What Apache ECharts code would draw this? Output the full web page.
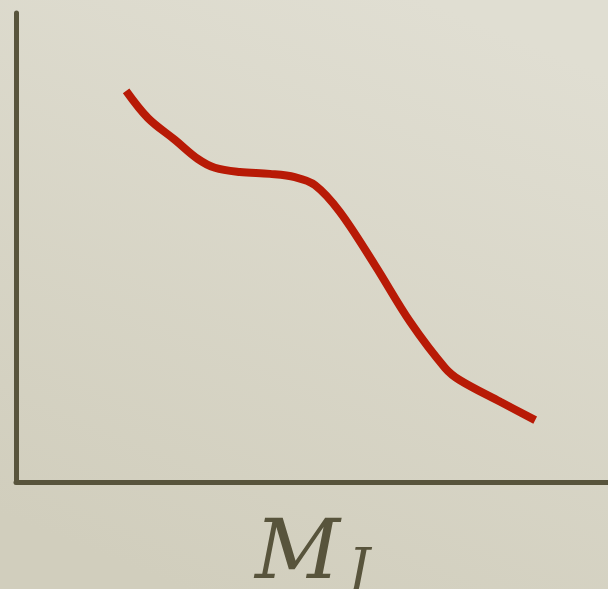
<!DOCTYPE html>
<html><head><meta charset="utf-8">
<script src="https://cdn.jsdelivr.net/npm/echarts@6/dist/echarts.min.js"></script>
<style>html,body{margin:0;padding:0;}#c{width:608px;height:589px;}</style>
</head><body><div id="c"></div>
<script>
const xValues = [18.6, 22.3, 26.9, 30.7, 33.6, 37.8, 42.9, 47.1, 50.5, 54.7, 60.6, 66.6, 72.5, 75.0, 81.8, 87.7];
const yValues = [83.4, 77.6, 72.9, 68.9, 67.0, 66.1, 65.7, 65.0, 63.3, 57.6, 46.3, 34.1, 24.3, 21.7, 17.1, 13.2];
const axisTitleMain = 'M';
const axisTitleSub = 'J';

const chart = echarts.init(document.getElementById('c'), null, {renderer: 'canvas'});
const axisColor = '#58543c';
chart.setOption({
  animation: false,
  backgroundColor: new echarts.graphic.LinearGradient(0.7, 0, 0.3, 1, [
    {offset: 0, color: '#e0ded2'},
    {offset: 1, color: '#d1cebd'}
  ]),
  grid: {left: 16, right: 0, top: 13, bottom: 107},
  xAxis: {type: 'value', min: 0, max: 100, axisLine: {show: true, lineStyle: {color: axisColor, width: 5}},
    axisTick: {show: false}, axisLabel: {show: false}, splitLine: {show: false}},
  yAxis: {type: 'value', min: 0, max: 100, axisLine: {show: true, lineStyle: {color: axisColor, width: 5}},
    axisTick: {show: false}, axisLabel: {show: false}, splitLine: {show: false}},
  series: [{
    type: 'line', smooth: 0.35, showSymbol: false,
    data: xValues.map((x, i) => [x, yValues[i]]),
    lineStyle: {color: '#b81a06', width: 8, cap: 'butt'}
  }],
  graphic: [
    {type: 'text', left: 255, top: 515, style: {text: axisTitleMain, font: 'italic 83px "DejaVu Serif"', fill: axisColor,
      shadowColor: 'rgba(255,255,255,0.9)', shadowBlur: 8}},
    {type: 'text', left: 348, top: 546, style: {text: axisTitleSub, font: 'italic 54px "DejaVu Serif"', fill: axisColor,
      shadowColor: 'rgba(255,255,255,0.9)', shadowBlur: 8}}
  ]
});
</script></body></html>
